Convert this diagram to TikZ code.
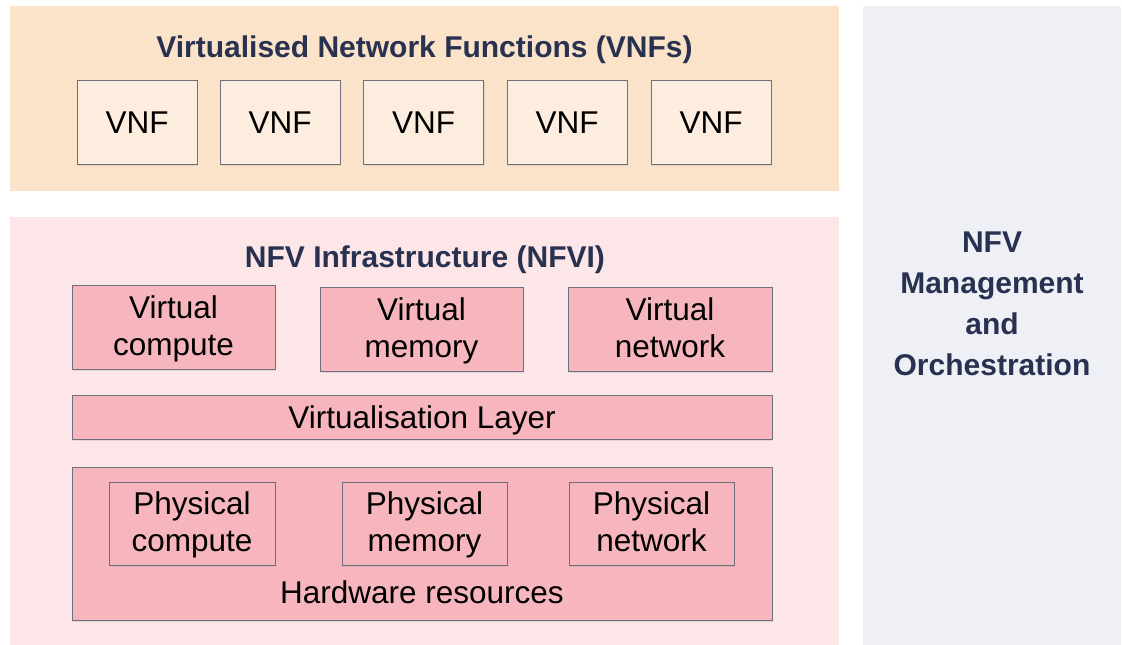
\documentclass[tikz,border=0pt]{standalone}
\usepackage{fontspec}
\setmainfont{Liberation Sans}
\usetikzlibrary{shadows}
\definecolor{peach}{RGB}{250,227,200}
\definecolor{vnffill}{RGB}{253,237,222}
\definecolor{nfvibg}{RGB}{252,230,232}
\definecolor{pinkbox}{RGB}{247,182,190}
\definecolor{manobg}{RGB}{239,240,246}
\definecolor{navy}{RGB}{40,50,80}
\definecolor{edge}{RGB}{110,110,125}
\newcommand\twolines[2]{\rule{0pt}{27pt}#1\\#2\rule[-8pt]{0pt}{0pt}}
\tikzset{
  panel/.style={rectangle, inner sep=0pt, draw=none},
  boxbase/.style={rectangle, draw=edge, line width=1pt, inner sep=0pt, align=center,
    drop shadow={opacity=0.18, shadow xshift=1pt, shadow yshift=-1.5pt},
    font=\fontsize{31.5}{37}\selectfont, text=black},
  oneline/.style={text height=22pt, text depth=0pt},
  vnfbox/.style={boxbase, oneline, fill=vnffill, minimum width=120pt, minimum height=84pt},
  pinkb/.style={boxbase, fill=pinkbox},
  title/.style={anchor=base, font=\fontsize{30}{41}\selectfont\bfseries, text=navy, inner sep=0pt, align=center},
  plain/.style={anchor=base, font=\fontsize{31.5}{37}\selectfont, text=black, inner sep=0pt}
}
\begin{document}
\begin{tikzpicture}[x=1pt,y=-1pt]
\useasboundingbox (0,0) rectangle (1122,645);
\fill[white] (0,0) rectangle (1122,645);
% panels
\node[panel, fill=peach, minimum width=829pt, minimum height=185pt] (vnfpanel) at (424.5,98.5) {};
\node[panel, fill=nfvibg, minimum width=829pt, minimum height=428pt] (nfvipanel) at (424.5,431) {};
\node[panel, fill=manobg, minimum width=258pt, minimum height=639pt] (manopanel) at (992,325.5) {};
% titles
\node[title] (vnftitle) at (424.5,57) {Virtualised Network Functions (VNFs)};
\node[title] (nfvititle) at (425,267) {NFV Infrastructure (NFVI)};
\node[title, anchor=center] (manotitle) at (992,303.5) {NFV\\Management\\and\\Orchestration};
% VNFs
\node[vnfbox] (v1) at (137,122) {VNF};
\node[vnfbox] (v2) at (280,122) {VNF};
\node[vnfbox] (v3) at (423.5,122) {VNF};
\node[vnfbox] (v4) at (567,122) {VNF};
\node[vnfbox] (v5) at (711,122) {VNF};
% virtual resources
\node[pinkb, minimum width=203pt, minimum height=84pt] (vc) at (173.5,327) {\twolines{Virtual}{compute}};
\node[pinkb, minimum width=203pt, minimum height=84pt] (vm) at (421.5,329) {\twolines{Virtual}{memory}};
\node[pinkb, minimum width=204pt, minimum height=84pt] (vn) at (670,329) {\twolines{Virtual}{network}};
\node[pinkb, oneline, minimum width=700pt, minimum height=44pt] (layer) at (422,417) {Virtualisation Layer};
% hardware
\node[pinkb, minimum width=700pt, minimum height=153pt] (hw) at (422,543.5) {};
\node[pinkb, minimum width=166pt, minimum height=83pt] (pc) at (192,523.5) {\twolines{Physical}{compute}};
\node[pinkb, minimum width=165pt, minimum height=83pt] (pm) at (424.5,523.5) {\twolines{Physical}{memory}};
\node[pinkb, minimum width=165pt, minimum height=83pt] (pn) at (651.5,523.5) {\twolines{Physical}{network}};
\node[plain] (hwlabel) at (422,603) {Hardware resources};
\end{tikzpicture}
\end{document}
